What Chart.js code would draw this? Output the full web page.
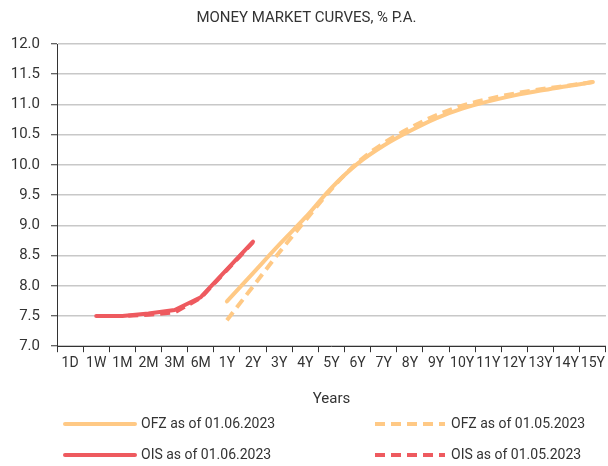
<!DOCTYPE html>
<html>
<head>
<meta charset="utf-8">
<script src="https://cdn.jsdelivr.net/npm/chart.js@4"></script>
<style>
  html, body { margin: 0; padding: 0; background: #fff; }
  #wrap { width: 608px; height: 466px; position: relative; }
</style>
</head>
<body>
<div id="wrap"><canvas id="c" width="608" height="466"></canvas></div>
<script>
const categories = ['1D','1W','1M','2M','3M','6M','1Y','2Y','3Y','4Y','5Y','6Y','7Y','8Y','9Y','10Y','11Y','12Y','13Y','14Y','15Y'];
const yTicks = [7.0, 7.5, 8.0, 8.5, 9.0, 9.5, 10.0, 10.5, 11.0, 11.5, 12.0];

const ofzJun = [null, null, null, null, null, null, 7.74, 8.21, 8.68, 9.13, 9.62, 10.02, 10.32, 10.56, 10.77, 10.93, 11.05, 11.15, 11.23, 11.30, 11.37];
const ofzMay = [null, null, null, null, null, null, 7.43, 7.99, 8.55, 9.08, 9.60, 10.04, 10.36, 10.61, 10.82, 10.98, 11.09, 11.18, 11.25, 11.31, 11.37];
const oisJun = [null, 7.50, 7.50, 7.54, 7.60, 7.81, 8.27, 8.73, null, null, null, null, null, null, null, null, null, null, null, null, null];
const oisMay = [null, 7.50, 7.50, 7.52, 7.56, 7.80, 8.26, 8.72, null, null, null, null, null, null, null, null, null, null, null, null, null];

const seriesNames = ['OFZ as of 01.06.2023', 'OFZ as of 01.05.2023', 'OIS as of 01.06.2023', 'OIS as of 01.05.2023'];

const ORANGE = '#FFC985';
const RED = '#EE5A5F';
const FONT = 'Roboto, "Liberation Sans", sans-serif';

const legendPlugin = {
  id: 'gridLegend',
  afterDraw(chart) {
    const ctx = chart.ctx;
    const items = chart.data.datasets;
    const cols = [65, 375];
    const rows = [424, 455];
    ctx.save();
    items.forEach((ds, i) => {
      const x = cols[i % 2];
      const y = rows[Math.floor(i / 2)];
      ctx.beginPath();
      ctx.strokeStyle = ds.borderColor;
      ctx.lineWidth = 4;
      ctx.lineCap = ds.borderDash && ds.borderDash.length ? 'butt' : 'round';
      ctx.setLineDash(ds.borderDash || []);
      ctx.moveTo(x, y);
      ctx.lineTo(x + 70, y);
      ctx.stroke();
      ctx.setLineDash([]);
      ctx.fillStyle = '#333';
      ctx.font = '14px ' + FONT;
      ctx.textBaseline = 'middle';
      ctx.textAlign = 'left';
      ctx.fillText(ds.label, x + 76, y);
    });
    ctx.restore();
  }
};

new Chart(document.getElementById('c'), {
  type: 'line',
  data: {
    labels: categories,
    datasets: [
      { label: seriesNames[0], data: ofzJun, borderColor: ORANGE, backgroundColor: ORANGE, borderWidth: 4, pointRadius: 0, cubicInterpolationMode: 'monotone', borderCapStyle: 'round', order: 2 },
      { label: seriesNames[1], data: ofzMay, borderColor: ORANGE, backgroundColor: ORANGE, borderWidth: 4, pointRadius: 0, cubicInterpolationMode: 'monotone', borderDash: [10, 6], order: 3 },
      { label: seriesNames[2], data: oisJun, borderColor: RED, backgroundColor: RED, borderWidth: 4, pointRadius: 0, tension: 0, borderCapStyle: 'round', borderJoinStyle: 'round', order: 0 },
      { label: seriesNames[3], data: oisMay, borderColor: RED, backgroundColor: RED, borderWidth: 4, pointRadius: 0, tension: 0, borderDash: [10, 6], order: 1 }
    ]
  },
  options: {
    responsive: false,
    animation: false,
    spanGaps: false,
    layout: { padding: { left: 7, right: 2, top: 8, bottom: 58 } },
    plugins: {
      legend: { display: false },
      tooltip: { enabled: false },
      title: {
        display: true,
        text: 'MONEY MARKET CURVES, % P.A.',
        color: '#333',
        font: { family: FONT, size: 15, weight: 'normal' },
        padding: { top: 1, bottom: 17 }
      }
    },
    scales: {
      x: {
        type: 'category',
        offset: true,
        grid: { display: true, drawOnChartArea: false, drawTicks: true, tickLength: 6, offset: true, tickColor: '#333', tickWidth: 1 },
        border: { display: true, color: '#333', width: 1 },
        ticks: { color: '#333', font: { family: FONT, size: 14 }, padding: 3, maxRotation: 0, minRotation: 0, autoSkip: false },
        title: { display: true, text: 'Years', color: '#333', font: { family: FONT, size: 15 }, padding: { top: 15, bottom: 0 } }
      },
      y: {
        min: 7, max: 12,
        afterBuildTicks(scale) { scale.ticks = yTicks.map(v => ({ value: v })); },
        afterFit(scale) { scale.width = 50; },
        grid: { color: '#c8c8c8', lineWidth: 1.5, tickLength: 6, tickColor: '#333', tickWidth: 1 },
        border: { display: true, color: '#333', width: 1 },
        ticks: { color: '#333', font: { family: FONT, size: 15 }, padding: 11, callback: v => Number(v).toFixed(1) }
      }
    }
  },
  plugins: [legendPlugin]
});
</script>
</body>
</html>
